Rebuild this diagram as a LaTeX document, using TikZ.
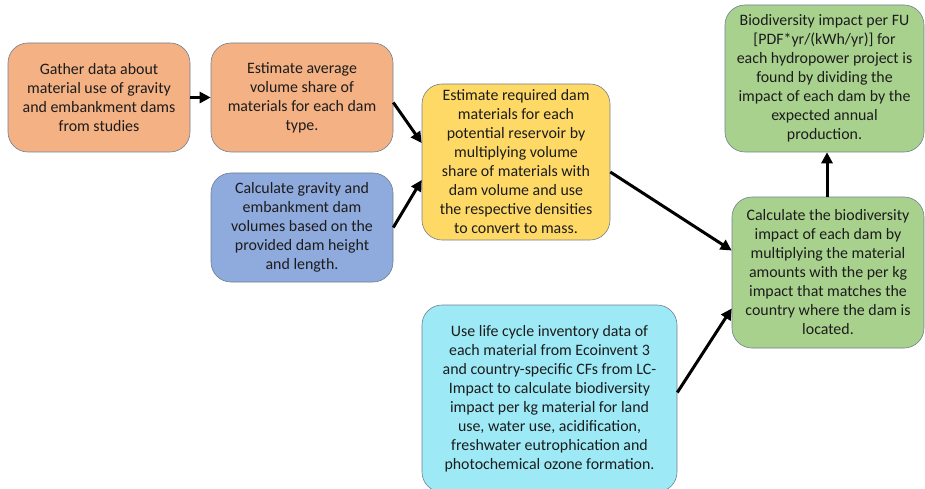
\documentclass[tikz,border=0pt]{standalone}
\usepackage{fontspec}
\setmainfont{Carlito}
\usetikzlibrary{arrows.meta,calc}
\definecolor{orangebox}{HTML}{F4B183}
\definecolor{bluebox}{HTML}{8FAADC}
\definecolor{yellowbox}{HTML}{FFD966}
\definecolor{greenbox}{HTML}{A9D18E}
\definecolor{cyanbox}{HTML}{9DEAF6}
\definecolor{edgecol}{HTML}{6F7F8F}
\definecolor{txt}{HTML}{1C1C1C}
\tikzset{
  box/.style={draw=edgecol, line width=0.6pt, rounded corners=20pt, align=center,
    inner sep=0pt, text=txt, font=\fontsize{15.9}{19}\selectfont},
  flow/.style={line width=3pt, -{Triangle[length=11pt,width=11pt]}}
}
\begin{document}
\begin{tikzpicture}[x=1pt,y=1pt]
\useasboundingbox (0,0) rectangle (925,488);
\node[box, fill=orangebox, minimum width=182pt, minimum height=109pt] (o1) at (99,390.5)
  {Gather data about\\material use of gravity\\and embankment dams\\from studies};
\node[box, fill=orangebox, minimum width=182pt, minimum height=109pt] (o2) at (302,390.5)
  {Estimate average\\volume share of\\materials for each dam\\type.};
\node[box, fill=bluebox, minimum width=182pt, minimum height=109pt] (b) at (302,260.5)
  {Calculate gravity and\\embankment dam\\volumes based on the\\provided dam height\\and length.};
\node[box, fill=yellowbox, minimum width=188pt, minimum height=156pt] (y) at (516,326)
  {Estimate required dam\\materials for each\\potential reservoir by\\multiplying volume\\share of materials with\\dam volume and use\\the respective densities\\to convert to mass.};
\node[box, fill=greenbox, minimum width=199pt, minimum height=147pt] (gt) at (824.5,409.5)
  {Biodiversity impact per FU\\{[}PDF*yr/(kWh/yr){]} for\\each hydropower project is\\found by dividing the\\impact of each dam by the\\expected annual\\production.};
\node[box, fill=greenbox, minimum width=192pt, minimum height=151pt] (gm) at (828,215.5)
  {Calculate the biodiversity\\impact of each dam by\\multiplying the material\\amounts with the per kg\\impact that matches the\\country where the dam is\\located.};
\node[box, fill=cyanbox, minimum width=255pt, minimum height=187pt] (c) at (549.5,89.5)
  {Use life cycle inventory data of\\each material from Ecoinvent 3\\and country-specific CFs from LC-\\Impact to calculate biodiversity\\impact per kg material for land\\use, water use, acidification,\\freshwater eutrophication and\\photochemical ozone formation.};
\coordinate (gmtop) at ($(gm.north)+(-1,0)$);
\draw[flow] (o1.east) -- (o2.west);
\draw[flow] ($(o2.east)+(0,-5)$) -- ($(y.west)+(0,19)$);
\draw[flow] (b.east) -- ($(y.west)+(0,-18)$);
\draw[flow] ($(y.east)+(0,-10)$) -- ($(gm.west)+(0,22)$);
\draw[flow] ($(c.east)+(0,6)$) -- ($(gm.west)+(0,-36)$);
\draw[flow] (gmtop) -- (gmtop |- gt.south);
\end{tikzpicture}
\end{document}
